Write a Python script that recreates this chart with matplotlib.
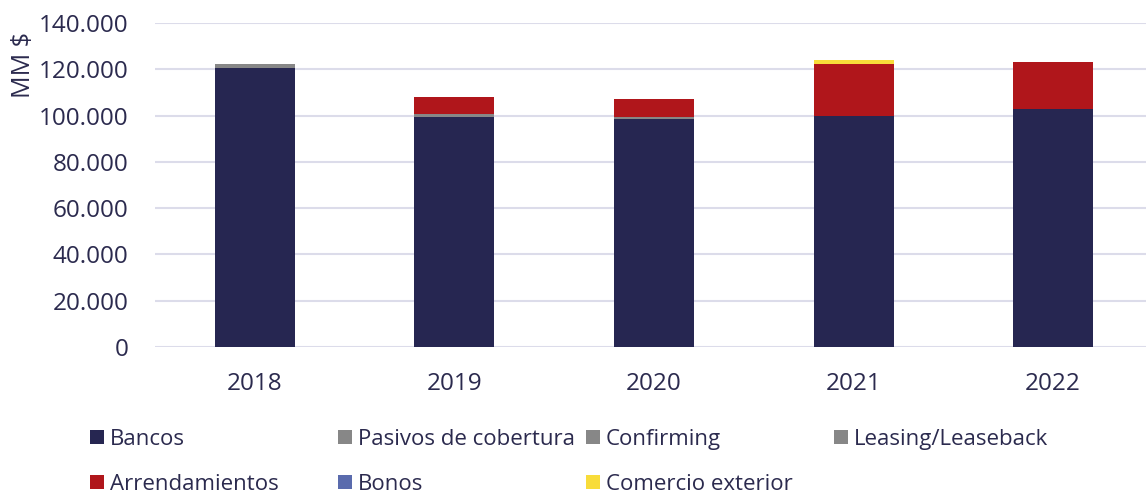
import matplotlib
matplotlib.use("Agg")
import matplotlib.pyplot as plt
import numpy as np
from matplotlib.patches import Rectangle
from matplotlib.ticker import FuncFormatter

plt.rcParams['font.family'] = ['Open Sans', 'DejaVu Sans']

years = ["2018", "2019", "2020", "2021", "2022"]
bancos = [120500, 99300, 98500, 100000, 102700]
pasivos_cobertura = [1700, 1300, 900, 0, 0]
confirming = [0, 0, 0, 0, 0]
leasing = [0, 0, 0, 0, 0]
arrendamientos = [0, 7500, 7800, 22300, 20300]
bonos = [0, 0, 0, 0, 0]
comercio_exterior = [0, 0, 0, 1700, 0]

series_names = ["Bancos", "Pasivos de cobertura", "Confirming", "Leasing/Leaseback",
                "Arrendamientos", "Bonos", "Comercio exterior"]
series_values = [bancos, pasivos_cobertura, confirming, leasing,
                 arrendamientos, bonos, comercio_exterior]
colors = ["#262651", "#878787", "#878787", "#878787", "#B0161B", "#5A6BAD", "#F8DC3A"]
yticks = [0, 20000, 40000, 60000, 80000, 100000, 120000, 140000]

text_color = "#2B2A4E"
W, H = 1146, 496
fig = plt.figure(figsize=(W / 100, H / 100), dpi=100)
ax = fig.add_axes([155 / W, (H - 347) / H, 1 - 155 / W, (347 - 23) / H])

x = np.arange(len(years))
bottom = np.zeros(len(years))
for name, vals, c in zip(series_names, series_values, colors):
    v = np.array(vals, dtype=float)
    ax.bar(x, v, 0.4, bottom=bottom, color=c, zorder=3)
    bottom += v

ax.set_ylim(0, 140000)
ax.set_xlim(-0.5, 4.465)
ax.set_yticks(yticks)
ax.yaxis.set_major_formatter(FuncFormatter(lambda v, p: f"{int(v):,}".replace(",", ".")))
ax.set_xticks(x)
ax.set_xticklabels(years)
ax.grid(axis='y', color="#DCDCEA", linewidth=1.5, zorder=0)
for s in ax.spines.values():
    s.set_visible(False)
ax.tick_params(axis='both', length=0, labelsize=17.5, colors=text_color)
ax.tick_params(axis='y', pad=19)
ax.tick_params(axis='x', pad=18)

fig.text(24 / W, (H - 65) / H, "MM $", rotation=90, ha='center', va='center',
         fontsize=18, color=text_color)

# legend drawn with uniform column widths (Excel style)
ncols = 4
col_x0, col_pitch = 90, 248
row_y = [437, 482]
sq = 14
for i, (name, c) in enumerate(zip(series_names, colors)):
    r, k = divmod(i, ncols)
    px = col_x0 + k * col_pitch
    py = row_y[r]
    fig.patches.append(Rectangle((px / W, (H - py - sq / 2) / H), sq / W, sq / H,
                                 transform=fig.transFigure, facecolor=c,
                                 edgecolor='none'))
    fig.text((px + sq + 6) / W, (H - py) / H, name, ha='left', va='center_baseline',
             fontsize=16, color=text_color)

fig.savefig("out.png", dpi=100)
